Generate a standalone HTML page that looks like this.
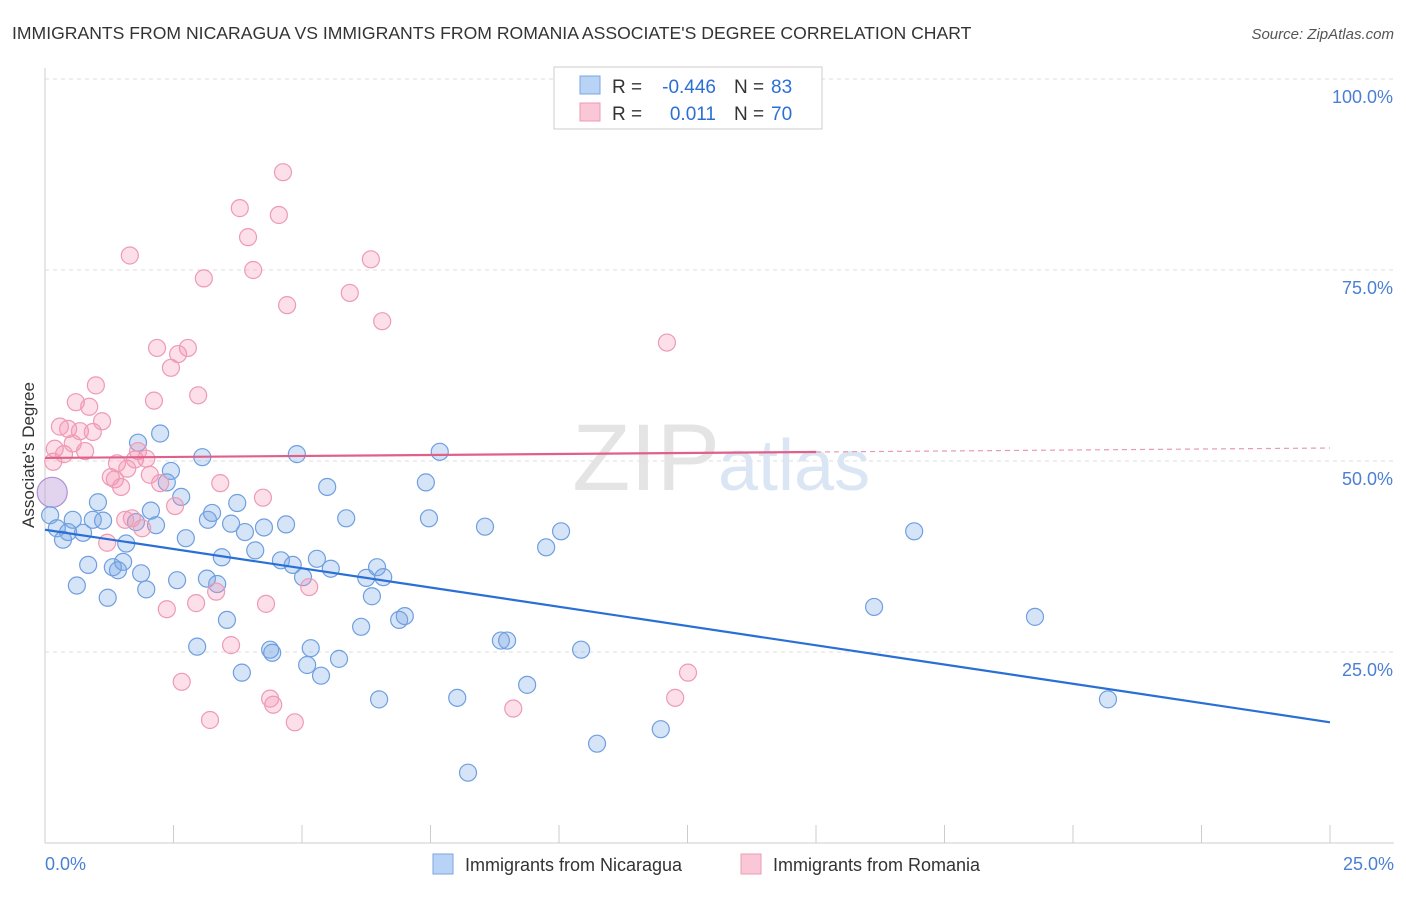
<!DOCTYPE html>
<html><head><meta charset="utf-8"><style>
body{margin:0;background:#fff;font-family:"Liberation Sans",sans-serif;}
svg text{font-family:"Liberation Sans",sans-serif;}
</style></head><body>
<svg width="1406" height="892" xmlns="http://www.w3.org/2000/svg">
<text x="12" y="39" font-size="17.6" fill="#333">IMMIGRANTS FROM NICARAGUA VS IMMIGRANTS FROM ROMANIA ASSOCIATE'S DEGREE CORRELATION CHART</text>
<text x="1394" y="39" font-size="15" fill="#555" font-style="italic" text-anchor="end">Source: ZipAtlas.com</text>
<g id="grid"></g>
<text x="720" y="490" font-size="95" fill="#e4e4e4" text-anchor="end" font-family="Liberation Serif">ZIP</text>
<text x="718" y="490" font-size="72" fill="#dbe6f4">atlas</text>
<g id="pts"></g>
<g id="lines"></g>
<text transform="translate(34,455) rotate(-90)" font-size="17" fill="#333" text-anchor="middle">Associate's Degree</text>
<text x="45" y="870" font-size="18" fill="#4a7fd4">0.0%</text>
<text x="1394" y="870" font-size="18" fill="#4a7fd4" text-anchor="end">25.0%</text>
<g>
<rect x="554" y="67" width="268" height="62" fill="#fff" stroke="#ccc"/>
<rect x="580" y="76" width="20" height="18" fill="#b8d3f5" stroke="#7aa6e0"/>
<rect x="580" y="103" width="20" height="18" fill="#f9c7d6" stroke="#ee9ab5"/>
<text x="612" y="93" font-size="19" fill="#333">R =</text>
<text x="716" y="93" font-size="19" fill="#2a6fd6" text-anchor="end">-0.446</text>
<text x="734" y="93" font-size="19" fill="#333">N =</text>
<text x="771" y="93" font-size="19" fill="#2a6fd6">83</text>
<text x="612" y="120" font-size="19" fill="#333">R =</text>
<text x="716" y="120" font-size="19" fill="#2a6fd6" text-anchor="end">0.011</text>
<text x="734" y="120" font-size="19" fill="#333">N =</text>
<text x="771" y="120" font-size="19" fill="#2a6fd6">70</text>
</g>
<g>
<rect x="433" y="854" width="20" height="20" fill="#b8d3f5" stroke="#7aa6e0"/>
<text x="465" y="871" font-size="18" fill="#333">Immigrants from Nicaragua</text>
<rect x="741" y="854" width="20" height="20" fill="#f9c7d6" stroke="#ee9ab5"/>
<text x="773" y="871" font-size="18" fill="#333">Immigrants from Romania</text>
</g>
</svg>
<script>
const yTicks=[25,50,75,100];
const xTickCount=10;
const blueX=[0.14,0.1,0.23,0.35,0.45,0.54,0.62,0.74,0.84,0.93,1.03,1.13,1.22,1.32,1.42,1.52,1.58,1.77,1.81,1.87,1.97,2.06,2.16,2.24,2.37,2.45,2.57,2.65,2.74,2.96,3.06,3.17,3.15,3.25,3.35,3.44,3.54,3.62,3.74,3.83,3.89,4.09,4.26,4.38,4.42,4.59,4.69,4.82,4.9,5.02,5.1,5.17,5.29,5.37,5.49,5.56,5.72,5.86,6.15,6.25,6.36,6.46,6.5,6.58,6.89,7.0,7.41,7.47,7.68,8.02,8.23,8.56,8.87,8.99,9.38,9.75,10.04,10.43,10.74,11.98,16.13,16.91,19.26,20.68];
const blueY=[45.9,42.9,41.2,39.7,40.7,42.3,33.7,40.6,36.4,42.3,44.6,42.2,32.1,36.1,35.7,36.8,39.2,42,52.4,35.3,33.2,43.5,41.6,53.6,47.2,48.7,34.4,45.3,39.9,25.7,50.5,42.3,34.6,43.2,33.9,37.4,29.2,41.8,44.5,22.3,40.7,38.3,41.3,25.3,24.9,37,41.7,36.4,50.9,34.8,23.3,25.5,37.2,21.9,46.6,35.9,24.1,42.5,28.3,34.7,32.3,36.1,18.8,34.8,29.2,29.7,47.2,42.5,51.2,19,9.2,41.4,26.5,26.5,20.7,38.7,40.8,25.3,13,14.9,30.9,40.8,29.6,18.8];
const pinkX=[0.16,0.19,0.29,0.37,0.45,0.54,0.6,0.68,0.78,0.86,0.93,0.99,1.11,1.21,1.28,1.36,1.4,1.48,1.56,1.6,1.65,1.69,1.75,1.81,1.89,1.97,2.04,2.12,2.18,2.24,2.37,2.45,2.53,2.59,2.66,2.78,2.94,2.98,3.09,3.21,3.33,3.41,3.62,3.79,3.95,4.05,4.24,4.3,4.38,4.44,4.55,4.63,4.71,4.86,5.14,5.93,6.34,6.56,9.11,12.1,12.26,12.51,14.53];
const pinkY=[49.9,51.6,54.5,50.9,54.2,52.3,57.7,53.9,51.3,57.1,53.8,59.9,55.2,39.3,47.9,47.6,49.7,46.6,42.3,49,76.9,42.5,50.2,51.3,41.2,50.3,48.2,57.9,64.8,47.1,30.6,62.2,44.1,64,21.1,64.8,31.4,58.6,73.9,16.1,32.9,47.1,25.9,83.1,79.3,75,45.2,31.3,18.9,18.1,82.2,87.8,70.4,15.8,33.5,72,76.4,68.3,17.6,65.5,19,22.3,94.6];
const blueLine=[41.0,15.8];
const pinkLine=[50.4,51.7];
const pinkSolidEnd=15;
const X0=45,X1=1330,Y0=843,Y100=79;
function xs(v){return X0+(v/25)*(X1-X0);}
function ys(v){return Y0-(v/100)*(Y0-Y100);}
const NS="http://www.w3.org/2000/svg";
function mk(tag,attrs,parent){const e=document.createElementNS(NS,tag);for(const k in attrs)e.setAttribute(k,attrs[k]);parent.appendChild(e);return e;}
const grid=document.getElementById('grid');
mk('line',{x1:X0,y1:Y0,x2:1394,y2:Y0,stroke:'#ccc'},grid);
mk('line',{x1:X0,y1:68,x2:X0,y2:Y0,stroke:'#ccc'},grid);
yTicks.forEach(t=>{
  const l=mk('line',{x1:X0,y1:ys(t),x2:1394,y2:ys(t),stroke:'#ddd','stroke-dasharray':'4,4'},grid);
  
  
  const tx=mk('text',{x:1393,y:ys(t)+24,'font-size':18,fill:'#4a7fd4','text-anchor':'end'},grid);
  tx.textContent=t.toFixed(1)+'%';
  
  
});
for(let i=1;i<=xTickCount;i++){
  const x=xs(25*i/xTickCount);
  const l=mk('line',{x1:x,y1:Y0-18,x2:x,y2:Y0,stroke:'#ccc'},grid);
  
  
}
const pts=document.getElementById('pts');
function dots(X,Y,fill,stroke,name){
  X.forEach((x,i)=>{
    const big=i===0&&name==='nicaragua-point';
    const c=mk('circle',{cx:xs(x),cy:ys(Y[i]),r:big?15:8.5,fill:big?'rgba(190,160,220,0.45)':fill,stroke:big?'#b090d0':stroke,'stroke-width':1.2},pts);
    
    
  });
}
dots(blueX,blueY,'rgba(120,165,230,0.3)','#6f9fe0','nicaragua-point');
dots(pinkX,pinkY,'rgba(245,150,180,0.3)','#ee9ab5','romania-point');
const lines=document.getElementById('lines');
const bl=mk('line',{x1:xs(0),y1:ys(blueLine[0]),x2:xs(25),y2:ys(blueLine[1]),stroke:'#2a6fd6','stroke-width':2.2},lines);


const pm=pinkLine[0]+(pinkLine[1]-pinkLine[0])*pinkSolidEnd/25;
const pl=mk('line',{x1:xs(0),y1:ys(pinkLine[0]),x2:xs(pinkSolidEnd),y2:ys(pm),stroke:'#e0608a','stroke-width':2.2},lines);


const pd=mk('line',{x1:xs(pinkSolidEnd),y1:ys(pm),x2:xs(25),y2:ys(pinkLine[1]),stroke:'#e89ab3','stroke-width':1.2,'stroke-dasharray':'5,4'},lines);


</script>
</body></html>
